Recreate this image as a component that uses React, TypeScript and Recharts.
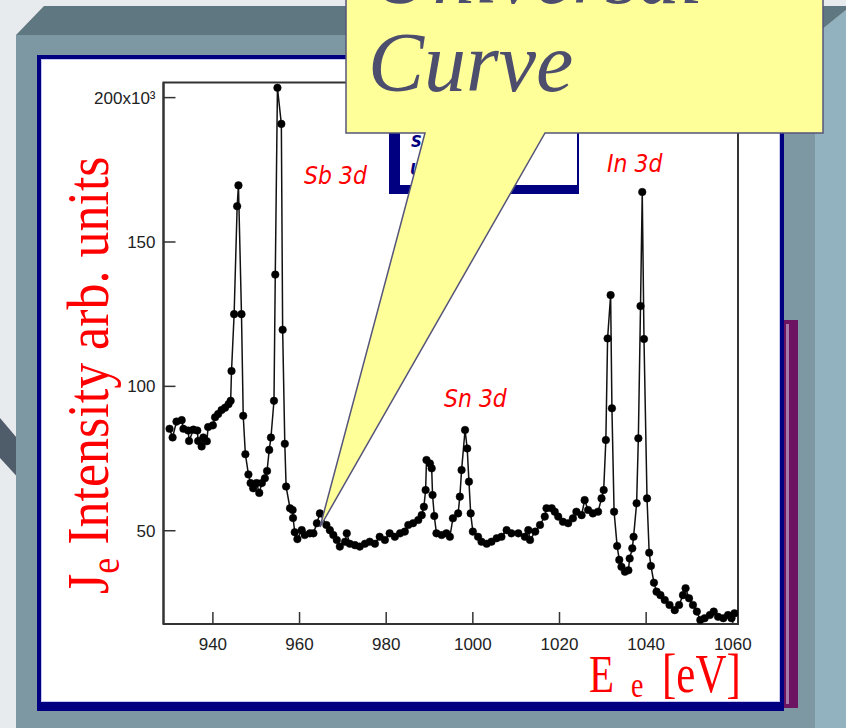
import { LineChart, Line, XAxis, YAxis, ReferenceArea } from "recharts";

// XPS survey: Sb 3d / Sn 3d / In 3d region
const energy = [
  930.0, 930.7, 931.6, 932.8, 933.2, 934.3, 934.5, 935.5, 936.4, 936.6, 937.4, 937.8, 938.6, 938.9,
  940.0, 940.5, 941.2, 942.0, 942.8, 943.6, 944.1, 944.3, 944.9, 945.6, 945.9, 946.6, 947.0, 947.5,
  948.2, 948.7, 949.3, 950.1, 950.7, 951.3, 952.0, 952.5, 953.0, 953.4, 954.1, 954.4, 954.9, 955.8,
  956.1, 956.6, 956.9, 957.8, 958.4, 958.5, 958.9, 959.5, 960.5, 961.2, 962.4, 963.2, 964.0, 964.7,
  966.2, 967.0, 967.8, 968.6, 969.3, 970.5, 970.9, 971.6, 972.8, 973.9, 975.1, 976.2, 977.4, 978.5,
  979.7, 980.8, 982.0, 983.2, 984.3, 985.1, 986.2, 987.4, 988.2, 988.7, 989.1, 989.3, 990.1, 990.5,
  990.7, 991.1, 991.6, 992.8, 993.9, 994.7, 995.4, 996.6, 997.0, 997.4, 998.2, 998.7, 999.1, 999.5,
  1000.0, 1001.2, 1002.0, 1003.2, 1004.3, 1005.5, 1006.6, 1007.8, 1008.9, 1010.5, 1012.0, 1012.8,
  1013.2, 1014.4, 1015.5, 1016.6, 1017.0, 1018.2, 1018.9, 1019.7, 1020.8, 1022.0, 1023.1, 1023.9,
  1025.1, 1025.8, 1026.6, 1027.7, 1028.9, 1029.7, 1030.2, 1030.7, 1031.1, 1031.8, 1032.1, 1032.6,
  1033.3, 1033.8, 1034.3, 1035.1, 1035.9, 1036.2, 1036.8, 1037.1, 1037.8, 1038.2, 1038.7, 1039.1,
  1039.5, 1040.2, 1040.7, 1041.1, 1041.8, 1042.4, 1043.3, 1044.3, 1045.4, 1046.6, 1047.6, 1048.5,
  1049.1, 1049.9, 1050.8, 1051.7, 1052.5, 1053.5, 1054.7, 1055.6, 1056.6, 1057.8, 1058.9, 1059.7,
  1060.4,
];

const intensity = [
  85.3, 82.3, 87.8, 88.3, 85.3, 84.7, 81.1, 85.0, 84.7, 81.1, 79.2, 82.3, 81.0, 85.9,
  86.5, 89.3, 90.4, 91.8, 92.6, 93.8, 95.0, 105.3, 125.0, 162.4, 169.6, 125.0, 89.8, 76.5,
  69.5, 66.5, 64.7, 66.5, 63.1, 66.5, 68.2, 70.7, 78.0, 82.3, 95.0, 138.7, 203.4, 190.9,
  119.6, 80.1, 65.3, 57.8, 57.2, 54.4, 49.5, 47.1, 50.2, 48.5, 49.1, 49.1, 52.6, 56.0,
  52.0, 50.2, 48.5, 46.8, 44.5, 46.2, 49.1, 45.5, 45.0, 44.5, 45.5, 46.2, 45.5, 47.9,
  46.8, 49.1, 47.9, 49.1, 49.7, 52.0, 52.6, 53.7, 55.4, 58.3, 64.1, 74.5, 73.3, 71.6,
  62.4, 55.1, 49.1, 48.5, 49.1, 47.9, 54.3, 56.0, 61.8, 71.0, 84.9, 78.5, 67.0, 56.0,
  49.7, 47.9, 46.2, 45.5, 46.2, 47.4, 47.9, 50.2, 49.1, 49.1, 47.9, 50.2,
  46.8, 49.7, 52.0, 54.9, 57.8, 57.8, 56.6, 54.9, 53.1, 52.6, 54.3, 56.6,
  55.4, 60.6, 57.2, 56.0, 56.6, 61.2, 64.1, 81.4, 116.6, 131.6, 92.4, 56.6,
  44.7, 39.9, 37.5, 35.8, 36.3, 40.4, 43.9, 47.9, 59.5, 82.0, 127.8, 167.3,
  116.4, 61.2, 42.4, 37.8, 32.0, 28.9, 27.7, 26.0, 24.3, 22.5, 24.3, 27.7,
  30.1, 26.6, 24.3, 22.0, 19.1, 19.7, 20.8, 22.0, 20.2, 19.7, 20.8, 19.7,
  21.4,
];

const xTicks = [940, 960, 980, 1000, 1020, 1040, 1060];
const yTicks = [50, 100, 150, 200];
const yTickLabels = ["50", "100", "150", "200x10³"];
const xDomain: [number, number] = [928.6, 1061.2];
const yDomain: [number, number] = [17.7, 205.2];

const peakLabels = [
  { text: "Sb 3d", x: 304, y: 184 },
  { text: "Sn 3d", x: 444, y: 407 },
  { text: "In 3d", x: 607, y: 172 },
];

const data = energy.map((e, i) => ({ e, v: intensity[i] }));

const tickFont = { fill: "#222", fontSize: 17, fontFamily: "Liberation Sans" };
const axisStroke = { stroke: "#333", strokeWidth: 2 };

function Slide() {
  return (
    <svg width={846} height={728} style={{ position: "absolute", left: 0, top: 0 }}>
      <rect x={0} y={0} width={846} height={728} fill="#e8ebed" />
      <polygon points="0,418 22,444 22,482 0,458" fill="#4f5d6b" />
      <polygon points="815,35 846,10 846,728 815,728" fill="#91b2be" />
      <polygon points="16,35 44,6 846,6 846,10 815,35" fill="#5f7780" />
      <rect x={16} y={35} width={799} height={693} fill="#7e98a3" />
      <rect x={770} y={320} width={28} height={388} fill="#6c1462" />
      <rect x={786} y={324} width={3} height={380} fill="#a67aa6" />
      <rect x={37} y={55} width={747} height={656} fill="#000080" />
      <rect x={41} y={59} width={739} height={643} fill="#c6c6ee" />
      <rect x={42} y={60} width={737} height={641} fill="#ffffff" />
      <rect x={389} y={110} width={190} height={84} fill="#000080" />
      <rect x={400} y={110} width={177} height={75} fill="#ffffff" />
      <text x={411} y={147} fontFamily="DejaVu Sans" fontWeight="bold" fontStyle="italic" fontSize={15} fill="#000080">
        Sample
      </text>
      <text x={410} y={175} fontFamily="DejaVu Sans" fontWeight="bold" fontStyle="italic" fontSize={15} fill="#000080">
        Unit
      </text>
    </svg>
  );
}

function Callout() {
  return (
    <svg width={846} height={728} style={{ position: "absolute", left: 0, top: 0, pointerEvents: "none" }}>
      <path
        d="M346,-5 L823,-5 L823,133 L545,133 L320,527 L425,133 L346,133 Z"
        fill="#ffff99"
        stroke="#55557a"
        strokeWidth={1.5}
      />
      <text x={372} y={3} fontFamily="Liberation Serif" fontStyle="italic" fontSize={84} fill="#4d4d6e">
        Universal
      </text>
      <text x={368} y={91} fontFamily="Liberation Serif" fontStyle="italic" fontSize={84} fill="#4d4d6e">
        Curve
      </text>
    </svg>
  );
}

function Titles() {
  const red = "#ff0000";
  return (
    <svg width={846} height={728} style={{ position: "absolute", left: 0, top: 0, pointerEvents: "none" }}>
      <text
        transform="translate(108,594) rotate(-90) scale(1,1.12)"
        fontFamily="Liberation Serif"
        fontSize={52}
        fill={red}
      >
        J<tspan fontSize={36} dy={10}>e</tspan>
        <tspan dy={-10}> Intensity arb. units</tspan>
      </text>
      <text transform="translate(589,692) scale(1,1.3)" fontFamily="Liberation Serif" fontSize={41} fill={red}>
        E
      </text>
      <text transform="translate(631,697) scale(1,1.3)" fontFamily="Liberation Serif" fontSize={28} fill={red}>
        e
      </text>
      <text transform="translate(662,692) scale(1,1.3)" fontFamily="Liberation Serif" fontSize={43} fill={red}>
        [eV]
      </text>
      {peakLabels.map((p) => (
        <text
          key={p.text}
          transform={`translate(${p.x},${p.y}) scale(1,1.1)`}
          fontFamily="DejaVu Sans"
          fontStyle="italic"
          fontSize={22}
          fill={red}
        >
          {p.text}
        </text>
      ))}
    </svg>
  );
}

export default function App() {
  return (
    <div style={{ position: "absolute", left: 0, top: 0, width: 846, height: 728, overflow: "hidden" }}>
      <Slide />
      <div style={{ position: "absolute", left: 0, top: 0 }}>
        <LineChart
          width={846}
          height={728}
          data={data}
          margin={{ top: 82.6, right: 108, bottom: 74, left: 83.5 }}
        >
          <XAxis
            dataKey="e"
            type="number"
            domain={xDomain}
            ticks={xTicks}
            allowDataOverflow
            height={30}
            tickSize={-12}
            tickMargin={26}
            axisLine={axisStroke}
            tickLine={{ stroke: "#333", strokeWidth: 1.5 }}
            tick={tickFont}
          />
          <YAxis
            type="number"
            domain={yDomain}
            ticks={yTicks}
            allowDataOverflow
            width={80}
            tickSize={-12}
            tickMargin={20}
            axisLine={axisStroke}
            tickLine={{ stroke: "#333", strokeWidth: 1.5 }}
            tick={tickFont}
            tickFormatter={(v: number) => yTickLabels[yTicks.indexOf(v)] ?? String(v)}
          />
          <ReferenceArea
            x1={xDomain[0]}
            x2={xDomain[1]}
            y1={yDomain[0]}
            y2={yDomain[1]}
            fill="none"
            stroke="#333"
            strokeWidth={2}
          />
          <Line
            type="linear"
            dataKey="v"
            stroke="#111"
            strokeWidth={1.5}
            dot={{ r: 3.8, fill: "#000", stroke: "#000", strokeWidth: 0.5 }}
            isAnimationActive={false}
          />
        </LineChart>
      </div>
      <Callout />
      <Titles />
    </div>
  );
}
